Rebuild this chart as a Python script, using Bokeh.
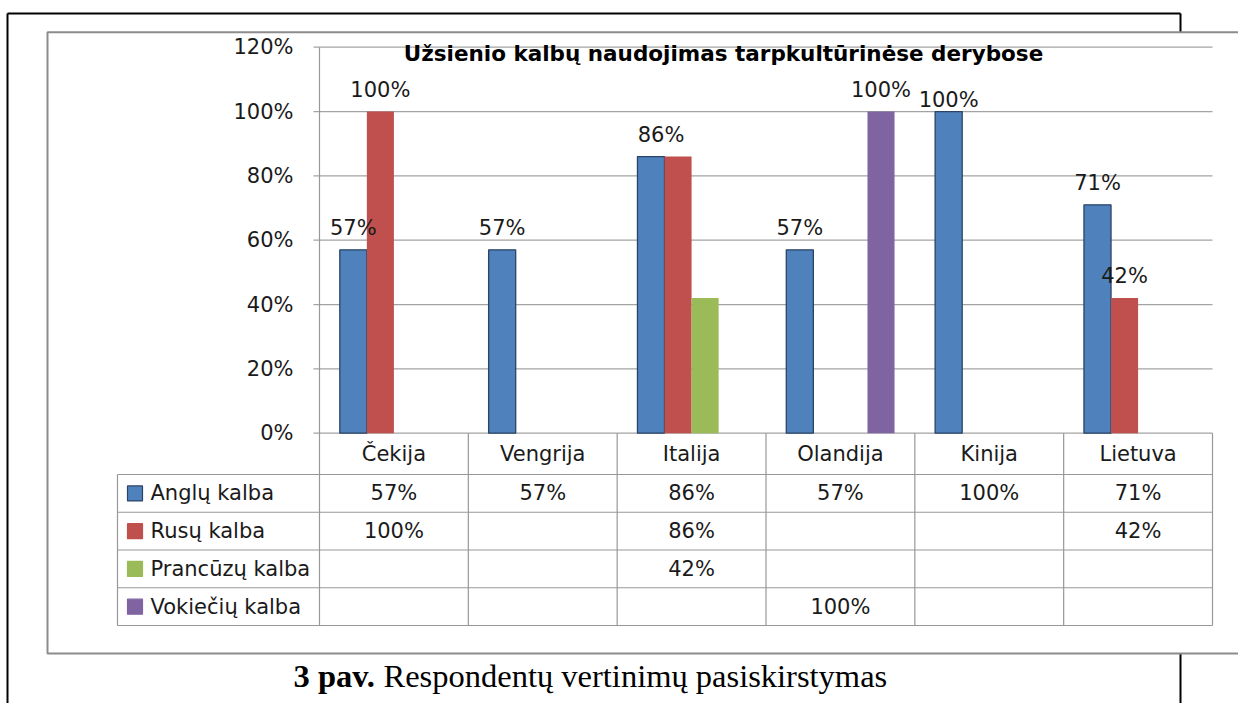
import numpy as np
from bokeh.plotting import figure
from bokeh.models import Range1d, ColumnDataSource
from bokeh.core.properties import value
from bokeh.embed import file_html
from bokeh.resources import INLINE

# ---------------- data ----------------
categories = ["Čekija", "Vengrija", "Italija", "Olandija", "Kinija", "Lietuva"]
series_names = ["Anglų kalba", "Rusų kalba", "Prancūzų kalba", "Vokiečių kalba"]
angl = [0.57, 0.57, 0.86, 0.57, 1.00, 0.71]
rusu = [1.00, None, 0.86, None, None, 0.42]
pranc = [None, None, 0.42, None, None, None]
vokie = [None, None, None, 1.00, None, None]
y_ticks = [0.0, 0.2, 0.4, 0.6, 0.8, 1.0, 1.2]
title_text = "Užsienio kalbų naudojimas tarpkultūrinėse derybose"
caption_bold = "3 pav."
caption_rest = "Respondentų  vertinimų  pasiskirstymas"
# data labels that are visible on the chart: (series index, category index)
shown_labels = [(0, 0), (1, 0), (0, 1), (0, 2), (0, 3), (3, 3), (0, 4), (0, 5), (1, 5)]

series_vals = [angl, rusu, pranc, vokie]

# ---------------- style / layout ----------------
colors = ["#4F81BD", "#C0504D", "#9BBB59", "#8064A2"]
outline = ["#2A4466", None, None, None]
FONT = "DejaVu Sans"
W, H = 1238, 703
OFF = 0
X0, X6 = 319.0, 1212.0     # page px of the category axis ends
Y0, Y12 = 432.7, 46.7      # page px of 0% and 120%
SX = (X6 - X0) / 6.0
SY = (Y0 - Y12) / 1.2


def dx(X):
    return (X - X0) / SX


def dy(Y):
    return (Y0 - Y) / SY


label_nudge = {(0, 2): (10, 0), (0, 4): (0, 10)}

p = figure(width=W, height=H,
           x_range=Range1d(dx(OFF), dx(OFF + W)),
           y_range=Range1d(dy(OFF + H), dy(OFF)),
           x_axis_type=None, y_axis_type=None,
           toolbar_location=None, output_backend="svg",
           min_border=0, outline_line_color=None,
           background_fill_color="white", border_fill_color="white")

# outer page frame (black)
p.segment(x0=[dx(7), dx(7), dx(1180)], y0=[dy(13), dy(13), dy(13)],
          x1=[dx(1180), dx(7), dx(1180)], y1=[dy(13), dy(720), dy(720)],
          line_color="black", line_width=2)

# chart box (grey border, white fill)
p.quad(left=[dx(47)], right=[dx(1260)], top=[dy(31.7)], bottom=[dy(653)],
       fill_color="white", line_color="#8C8C8C", line_width=2)

# gridlines + tick marks
p.segment(x0=[dx(313)] * len(y_ticks), x1=[6] * len(y_ticks), y0=y_ticks, y1=y_ticks,
          line_color="#A3A3A3", line_width=1.2)

# y tick labels
p.text(x=[dx(293)] * len(y_ticks), y=y_ticks, text=[f"{round(t * 100)}%" for t in y_ticks],
       text_font=value(FONT), text_font_size="21px", text_align="right",
       text_baseline="middle", text_color="#1a1a1a")

# title
p.text(x=[dx(723)], y=[dy(53)], text=[title_text], text_font=value(FONT),
       text_font_size="21.5px", text_font_style="bold", text_align="center",
       text_baseline="middle", text_color="black")

# bars
w = 1 / 5.5
offsets = [(k - 1.5) * w for k in range(4)]
for k, vals in enumerate(series_vals):
    xs = [i + 0.5 + offsets[k] for i, v in enumerate(vals) if v is not None]
    tops = [v for v in vals if v is not None]
    if outline[k]:
        p.vbar(x=xs, top=tops, bottom=0, width=w, fill_color=colors[k],
               line_color=outline[k], line_width=1.3)
    else:
        p.vbar(x=xs, top=tops, bottom=0, width=w, fill_color=colors[k], line_color=None)

# data labels
lx, ly, lt, lxo, lyo = [], [], [], [], []
for (k, i) in shown_labels:
    v = series_vals[k][i]
    nx, ny = label_nudge.get((k, i), (0, 0))
    lx.append(i + 0.5 + offsets[k])
    ly.append(v)
    lt.append(f"{round(v * 100)}%")
    lxo.append(nx)
    lyo.append(-22 + ny)
p.text(x="x", y="y", text="t", x_offset="xo", y_offset="yo",
       source=ColumnDataSource(dict(x=lx, y=ly, t=lt, xo=lxo, yo=lyo)),
       text_font=value(FONT), text_font_size="21px", text_align="center",
       text_baseline="middle", text_color="#1a1a1a")

# ---------------- data table ----------------
hdr_bottom = 474.0
row_h = 37.75
row_lines = [hdr_bottom + r * row_h for r in range(len(series_names) + 1)]
tbl_bottom = row_lines[-1]
LEG_L = 117.0
# horizontal rules
p.segment(x0=[dx(LEG_L)] * len(row_lines), x1=[6] * len(row_lines),
          y0=[dy(Y) for Y in row_lines], y1=[dy(Y) for Y in row_lines],
          line_color="#989898", line_width=1.2)
# vertical rules
vx0 = [dx(LEG_L), 0] + list(range(1, 7))
vy0 = [dy(hdr_bottom), 1.2] + [0] * 6
p.segment(x0=vx0, x1=vx0, y0=vy0, y1=[dy(tbl_bottom)] * len(vx0),
          line_color="#989898", line_width=1.2)

# category headers
p.text(x=[i + 0.5 for i in range(len(categories))], y=[dy(453)] * len(categories),
       text=categories, text_font=value(FONT), text_font_size="21px",
       text_align="center", text_baseline="middle", text_color="#1a1a1a")

row_centers = [(row_lines[r] + row_lines[r + 1]) / 2 for r in range(len(series_names))]
# legend keys
p.rect(x=[dx(134.5)] * 4, y=[dy(Y) for Y in row_centers], width=15, height=15,
       width_units="screen", height_units="screen", fill_color=colors,
       line_color=[outline[0], colors[1], colors[2], colors[3]], line_width=1.2)
# series names
p.text(x=[dx(150)] * 4, y=[dy(Y) for Y in row_centers], text=series_names,
       text_font=value(FONT), text_font_size="21px", text_align="left",
       text_baseline="middle", text_color="#1a1a1a")
# cell values
cx, cy, ct = [], [], []
for k, vals in enumerate(series_vals):
    for i, v in enumerate(vals):
        if v is not None:
            cx.append(i + 0.5)
            cy.append(dy(row_centers[k]))
            ct.append(f"{round(v * 100)}%")
p.text(x=cx, y=cy, text=ct, text_font=value(FONT), text_font_size="21px",
       text_align="center", text_baseline="middle", text_color="#1a1a1a")

# caption
p.text(x=[dx(293)], y=[dy(675)], text=[caption_bold], text_font=value("Liberation Serif"),
       text_font_size="32.5px", text_font_style="bold", text_align="left",
       text_baseline="middle", text_color="black")
p.text(x=[dx(383)], y=[dy(675)], text=[caption_rest], text_font=value("Liberation Serif"),
       text_font_size="32.5px", text_align="left", text_baseline="middle", text_color="black")

open("out.html", "w").write(file_html(p, INLINE))
